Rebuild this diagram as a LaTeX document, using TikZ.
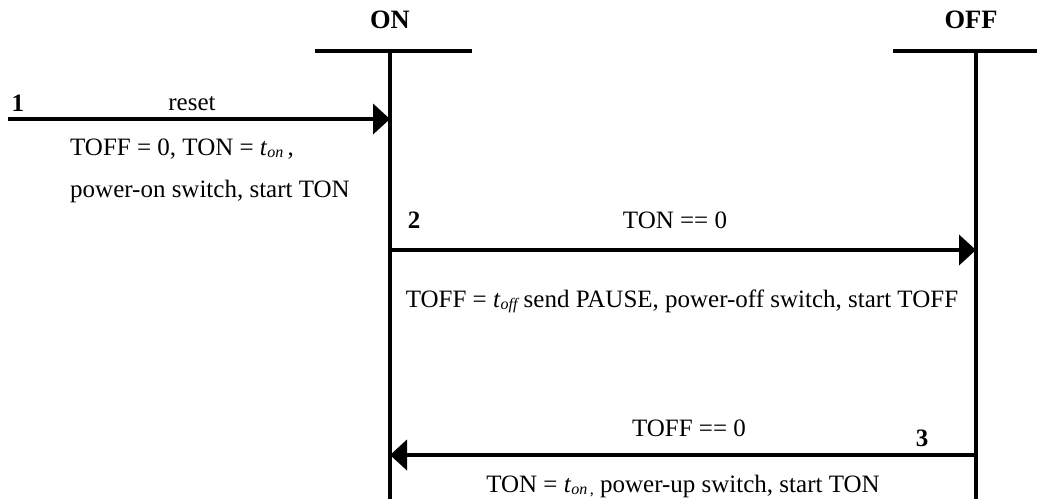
\documentclass[tikz,border=0pt]{standalone}
\usepackage{fontspec}
\setmainfont{Liberation Serif}
\usetikzlibrary{arrows.meta}
\newcommand\tsub[1]{\raisebox{-2.5pt}{\fontsize{16}{16}\selectfont\itshape #1}}
\tikzset{
  lbl/.style={font=\fontsize{25}{28}\selectfont, inner sep=0pt, anchor=base},
  num/.style={font=\fontsize{25}{28}\selectfont\bfseries, inner sep=0pt, anchor=base},
  head/.style={font=\fontsize{26.5}{30}\selectfont\bfseries, inner sep=0pt, anchor=base},
  life/.style={line width=4pt},
  bar/.style={line width=4pt},
  msg/.style={line width=4pt, -{Triangle[length=17pt,width=30pt]}}
}
\begin{document}
\begin{tikzpicture}[x=1pt,y=-1pt]
\useasboundingbox (0,0) rectangle (1039,499);
% headers
\node[head] (on) at (390,28) {ON};
\node[head] (off) at (971,28) {OFF};
\coordinate (onbarL) at (315,51);
\coordinate (onbarR) at (472,51);
\coordinate (offbarL) at (893,51);
\coordinate (offbarR) at (1037,51);
\coordinate (ontop) at (390,51);
\coordinate (onbot) at (390,499);
\coordinate (offtop) at (976,51);
\coordinate (offbot) at (976,499);
\draw[bar] (onbarL) -- (onbarR);
\draw[bar] (offbarL) -- (offbarR);
\draw[life] (ontop) -- (onbot);
\draw[life] (offtop) -- (offbot);
% message 1
\coordinate (m1s) at (8,119);
\coordinate (m1e) at (390,119);
\draw[msg] (m1s) -- (m1e);
\node[num] (n1) at (18,111) {1};
\node[lbl] (reset) at (192,110) {reset};
\node[lbl] (act1a) at (182,155) {TOFF = 0, TON = \textit{t}\tsub{on}\,,};
\node[lbl] (act1b) at (210,197) {power-on switch, start TON};
% message 2
\coordinate (m2s) at (390,250);
\coordinate (m2e) at (976,250);
\draw[msg] (m2s) -- (m2e);
\node[num] (n2) at (414,228) {2};
\node[lbl] (g2) at (675,228) {TON == 0};
\node[lbl] (act2) at (682,307) {TOFF = \textit{t}\tsub{off} send PAUSE, power-off switch, start TOFF};
% message 3
\coordinate (m3s) at (976,455);
\coordinate (m3e) at (390,455);
\draw[msg] (m3s) -- (m3e);
\node[num] (n3) at (922,446) {3};
\node[lbl] (g3) at (689,436) {TOFF == 0};
\node[lbl] (act3) at (683,492) {TON = \textit{t}\tsub{on\,,} power-up switch, start TON};
\end{tikzpicture}
\end{document}
